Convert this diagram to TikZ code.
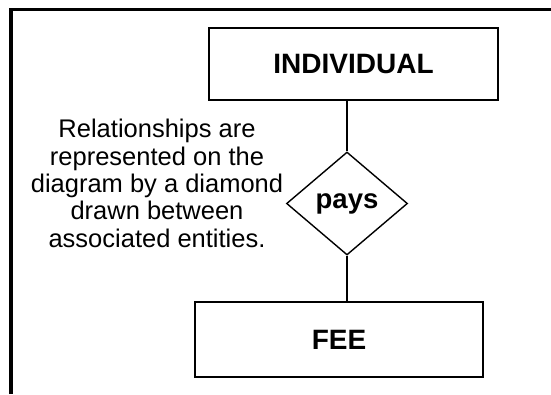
\documentclass[tikz,border=0pt]{standalone}
\usepackage{fontspec}
\setmainfont{Liberation Sans}
\usetikzlibrary{shapes.geometric}
\tikzset{%
  entity/.style   = {shape=rectangle, draw, line width=1.6pt,%
                     inner sep=0pt, font=\fontsize{28}{30}\selectfont\bfseries},%
  relation/.style = {shape=diamond, draw, line width=1.4pt, inner sep=0pt,%
                     minimum width=121pt, minimum height=103pt,%
                     font=\fontsize{27.5}{30}\selectfont\bfseries},%
  note/.style     = {align=center, inner sep=0pt,%
                     font=\fontsize{25.5}{27.3}\selectfont},%
  link/.style     = {line width=1.4pt}%
}

\begin{document}
\begin{tikzpicture}[x=1pt,y=-1pt]%
	\useasboundingbox (0,0) rectangle (551,394);
	% frame, only top and left edge
	\draw[line width=3.5pt] (11,394) |- (551,9.5);
	\node[entity, minimum width=289pt, minimum height=72pt] (ind) at (353.5,64) {INDIVIDUAL};%
	\node[relation] (pays) at (347,203.5) {pays};%
	\node[entity, minimum width=288pt, minimum height=75pt] (fee) at (339,339.5) {FEE};%
	% base anchor sits on the last line
	\node[note, anchor=base] (txt) at (157,247)
		{Relationships are\\represented on the\\diagram by a diamond\\drawn between\\associated entities.};%
	\draw[link] (pays.north) -- (pays.north |- ind.south);
	\draw[link] (pays.south) -- (pays.south |- fee.north);
\end{tikzpicture}
\end{document}
